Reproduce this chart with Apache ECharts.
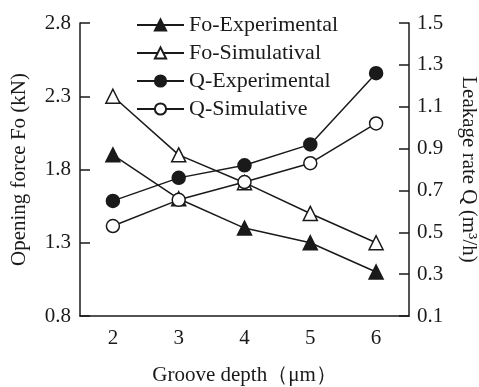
<!DOCTYPE html>
<html>
<head>
<meta charset="utf-8">
<script src="https://cdn.jsdelivr.net/npm/echarts@6/dist/echarts.min.js"></script>
<style>
html, body { margin: 0; padding: 0; background: #fff; }
#chart { width: 479px; height: 387px; }
</style>
</head>
<body>
<div id="chart"></div>
<script>
// groove depth (um)
const depths = ['2', '3', '4', '5', '6'];
// opening force Fo (kN), left axis
const foExperimental = [1.9, 1.6, 1.4, 1.3, 1.1];
const foSimulatival = [2.3, 1.9, 1.71, 1.5, 1.3];
// leakage rate Q (m3/h), right axis
const qExperimental = [0.65, 0.76, 0.82, 0.92, 1.26];
const qSimulative = [0.53, 0.655, 0.74, 0.83, 1.02];

const serif = 'Liberation Serif';
const ink = '#1a1a1a';

const myChart = echarts.init(document.getElementById('chart'));

function line(name, data, axis, symbol, filled) {
    return {
        name: name,
        type: 'line',
        yAxisIndex: axis,
        data: data,
        symbol: symbol,
        symbolSize: symbol === 'triangle' ? 14 : 13,
        showAllSymbol: true,
        itemStyle: {
            color: filled ? ink : '#fff',
            borderColor: ink,
            borderWidth: 1.5
        },
        lineStyle: { color: ink, width: 1.5 },
        emphasis: { disabled: true }
    };
}

const option = {
    animation: false,
    backgroundColor: '#fff',
    textStyle: { fontFamily: serif, color: ink },
    grid: { left: 80, right: 70, top: 23, bottom: 71, outerBoundsMode: 'none', containLabel: false },
    legend: {
        orient: 'vertical',
        left: 131,
        top: 9,
        itemWidth: 47,
        itemHeight: 14,
        itemGap: 6,
        textStyle: { fontFamily: serif, fontSize: 22, color: ink, lineHeight: 21 },
        data: ['Fo-Experimental', 'Fo-Simulatival', 'Q-Experimental', 'Q-Simulative']
    },
    xAxis: {
        type: 'category',
        data: depths,
        boundaryGap: true,
        name: 'Groove depth（μm）',
        nameLocation: 'middle',
        nameGap: 49,
        nameTextStyle: { fontFamily: serif, fontSize: 21, color: ink },
        axisLine: { lineStyle: { color: ink, width: 1.5 } },
        axisTick: { inside: true, length: 9, lineStyle: { color: ink, width: 1.5 } },
        axisLabel: { fontFamily: serif, fontSize: 21, color: ink, margin: 12 },
        splitLine: { show: false }
    },
    yAxis: [
        {
            type: 'value',
            min: 0.8,
            max: 2.8,
            interval: 0.5,
            name: 'Opening force Fo (kN)',
            nameLocation: 'middle',
            nameGap: 50,
            nameTextStyle: { fontFamily: serif, fontSize: 21, color: ink },
            axisLine: { show: true, lineStyle: { color: ink, width: 1.5 } },
            axisTick: { show: true, inside: true, length: 10, lineStyle: { color: ink, width: 1.5 } },
            axisLabel: { fontFamily: serif, fontSize: 21, color: ink, margin: 9,
                formatter: v => v.toFixed(1) },
            splitLine: { show: false }
        },
        {
            type: 'value',
            position: 'right',
            min: 0.1,
            max: 1.5,
            interval: 0.2,
            name: 'Leakage rate Q (m³/h)',
            nameLocation: 'middle',
            nameRotate: -90,
            nameGap: 49,
            nameTextStyle: { fontFamily: serif, fontSize: 21, color: ink },
            axisLine: { show: true, lineStyle: { color: ink, width: 1.5 } },
            axisTick: { show: true, inside: true, length: 10, lineStyle: { color: ink, width: 1.5 } },
            axisLabel: { fontFamily: serif, fontSize: 21, color: ink, margin: 8,
                formatter: v => v.toFixed(1) },
            splitLine: { show: false }
        }
    ],
    series: [
        line('Fo-Experimental', foExperimental, 0, 'triangle', true),
        line('Fo-Simulatival', foSimulatival, 0, 'triangle', false),
        line('Q-Experimental', qExperimental, 1, 'circle', true),
        line('Q-Simulative', qSimulative, 1, 'circle', false)
    ]
};

myChart.setOption(option);
</script>
</body>
</html>
